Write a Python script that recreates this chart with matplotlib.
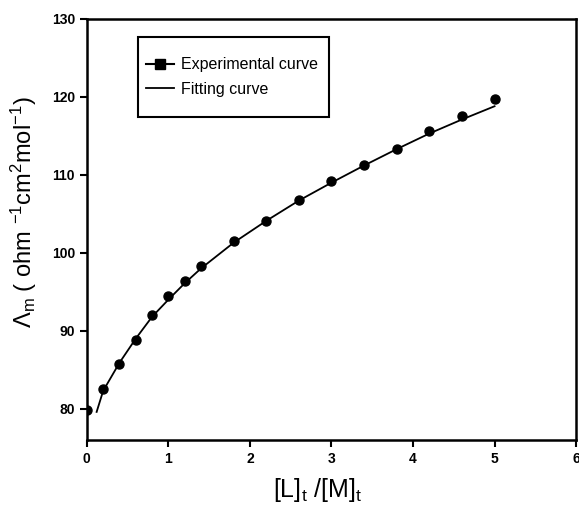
import matplotlib
matplotlib.use("Agg")
import matplotlib.pyplot as plt
from matplotlib.lines import Line2D
from matplotlib.patches import Rectangle

plt.rcParams['font.family'] = ['Liberation Sans', 'DejaVu Sans']
plt.rcParams['mathtext.fontset'] = 'custom'
plt.rcParams['mathtext.rm'] = 'Liberation Sans'
plt.rcParams['mathtext.it'] = 'Liberation Sans'

# Experimental data
exp_x = [0.0, 0.2, 0.4, 0.6, 0.8, 1.0, 1.2, 1.4, 1.8, 2.2, 2.6, 3.0, 3.4, 3.8, 4.2, 4.6, 5.0]
exp_y = [79.8, 82.6, 85.8, 88.8, 92.0, 94.4, 96.4, 98.3, 101.5, 104.1, 106.8, 109.2, 111.2, 113.3, 115.6, 117.6, 119.7]

# Fitting curve
fit_x = [0.12, 0.2, 0.4, 0.6, 0.8, 1.0, 1.2, 1.4, 1.8, 2.2, 2.6, 3.0, 3.4, 3.8, 4.2, 4.6, 5.0]
fit_y = [79.6, 82.3, 85.9, 89.0, 91.8, 94.0, 96.1, 98.0, 101.3, 104.1, 106.7, 109.0, 111.2, 113.3, 115.3, 117.1, 118.8]

x_ticks = [0, 1, 2, 3, 4, 5, 6]
y_ticks = [80, 90, 100, 110, 120, 130]

fig = plt.figure(figsize=(5.79, 5.11), dpi=100)
ax = fig.add_axes([0.150, 0.139, 0.845, 0.824])

ax.plot(fit_x, fit_y, color='black', lw=1.3, zorder=2)
ax.plot(exp_x, exp_y, linestyle='none', marker='o', ms=6.5, color='black', zorder=3)

ax.set_xlim(0, 6)
ax.set_ylim(76, 130)
ax.set_xticks(x_ticks)
ax.set_yticks(y_ticks)
ax.tick_params(direction='out', length=5, width=1.5, labelsize=10)
for lbl in ax.get_xticklabels() + ax.get_yticklabels():
    lbl.set_fontweight('bold')
for s in ax.spines.values():
    s.set_linewidth(1.8)

ax.set_ylabel(r'$\Lambda_{m}$ ( ohm $^{-1}$cm$^{2}$mol$^{-1}$)', fontsize=17)
ax.yaxis.set_label_coords(-0.097, 0.541)
ax.set_xlabel(r'[L]$_{t}$ /[M]$_{t}$', fontsize=18)
ax.xaxis.set_label_coords(0.472, -0.085)

# legend box
ax.add_patch(Rectangle((0.104, 0.767), 0.391, 0.190, transform=ax.transAxes,
                       fill=True, facecolor='white', edgecolor='black', lw=1.5, zorder=4))

handles = [
    Line2D([], [], color='black', lw=1.5, marker='s', ms=6.5),
    Line2D([], [], color='black', lw=1.3),
]
leg = ax.legend(handles, ['Experimental curve', 'Fitting curve'],
                loc='center left', bbox_to_anchor=(0.104, 0.862), fontsize=11.5,
                frameon=False, handlelength=1.75, handletextpad=0.45,
                borderpad=0.5, labelspacing=0.6, borderaxespad=0)
leg.set_zorder(5)

fig.savefig('out.png', dpi=100)
